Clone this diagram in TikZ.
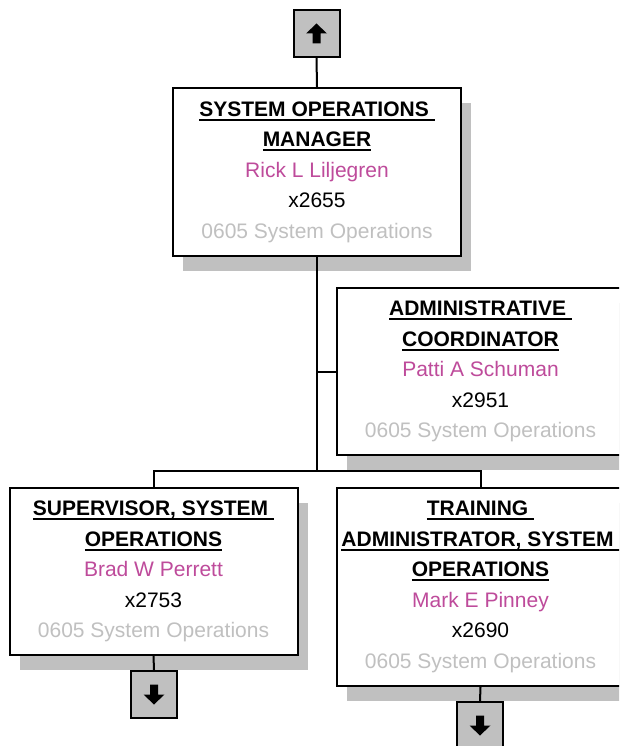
\documentclass[tikz,border=0pt]{standalone}
\usepackage{fontspec}
\setmainfont{Liberation Sans}
\usetikzlibrary{shadows}
\definecolor{namec}{RGB}{190,75,155}
\definecolor{greyt}{RGB}{192,192,192}
\definecolor{shade}{RGB}{192,192,192}
\newsavebox\ulbox
\newcommand\ttl[1]{\sbox\ulbox{\bfseries #1}\rlap{\rule[-4.5pt]{\wd\ulbox}{2pt}}\usebox\ulbox}
\tikzset{
  posbox/.style={draw, line width=2pt, fill=white, inner sep=0pt,
    minimum width=288pt, minimum height=168pt, align=center,
    font=\fontsize{21}{30.5}\selectfont,
    drop shadow={shadow xshift=10pt, shadow yshift=-15pt, fill=shade, opacity=1}},
  navbox/.style={draw, line width=2pt, fill=shade, inner sep=0pt,
    minimum width=46pt, minimum height=47pt},
  conn/.style={line width=2pt}
}
\begin{document}
\begin{tikzpicture}[x=1pt,y=-1pt]
\clip (0,0) rectangle (619,746);
\fill[white] (0,0) rectangle (619,746);
% navigation boxes
\node[navbox] (up) at (316.5,33.5) {};
\node[navbox] (supdn) at (154,694.5) {};
\node[navbox] (trndn) at (480,725.5) {};
% position boxes
\node[posbox] (mgr) at (317,172) {\ttl{SYSTEM OPERATIONS\ }\\ \ttl{MANAGER}\\ \textcolor{namec}{Rick L Liljegren}\\ x2655\\ \textcolor{greyt}{0605 System Operations}};
\node[posbox, minimum height=167pt] (adm) at (480.5,371.5) {\ttl{ADMINISTRATIVE\ }\\ \ttl{COORDINATOR}\\ \textcolor{namec}{Patti A Schuman}\\ x2951\\ \textcolor{greyt}{0605 System Operations}};
\node[posbox, minimum height=167pt] (sup) at (153.5,571.5) {\ttl{SUPERVISOR, SYSTEM\ }\\ \ttl{OPERATIONS}\\ \textcolor{namec}{Brad W Perrett}\\ x2753\\ \textcolor{greyt}{0605 System Operations}};
\node[posbox, minimum height=198pt] (trn) at (480.5,587) {\ttl{TRAINING\ }\\ \ttl{ADMINISTRATOR, SYSTEM\ }\\ \ttl{OPERATIONS}\\ \textcolor{namec}{Mark E Pinney}\\ x2690\\ \textcolor{greyt}{0605 System Operations}};
% arrows in nav boxes
\fill[shift={(up.center)}] (0,-10) -- (10.5,0) -- (4,0) -- (4,10) -- (-4,10) -- (-4,0) -- (-10.5,0) -- cycle;
\fill[shift={(supdn.center)}] (0,10) -- (10.5,0) -- (4,0) -- (4,-10) -- (-4,-10) -- (-4,0) -- (-10.5,0) -- cycle;
\fill[shift={(trndn.center)}] (0,10) -- (10.5,0) -- (4,0) -- (4,-10) -- (-4,-10) -- (-4,0) -- (-10.5,0) -- cycle;
% connectors
\coordinate (bus) at (mgr.south |- 0,471);
\draw[conn] (up.south) -- (mgr.north);
\draw[conn] (mgr.south) -- (bus);
\draw[conn] (mgr.south |- adm.west) -- (adm.west);
\draw[conn] (sup.north) |- (bus) -| (trn.north);
\draw[conn] (sup.south) -- (supdn.north);
\draw[conn] (trn.south) -- (trndn.north);
\end{tikzpicture}
\end{document}
